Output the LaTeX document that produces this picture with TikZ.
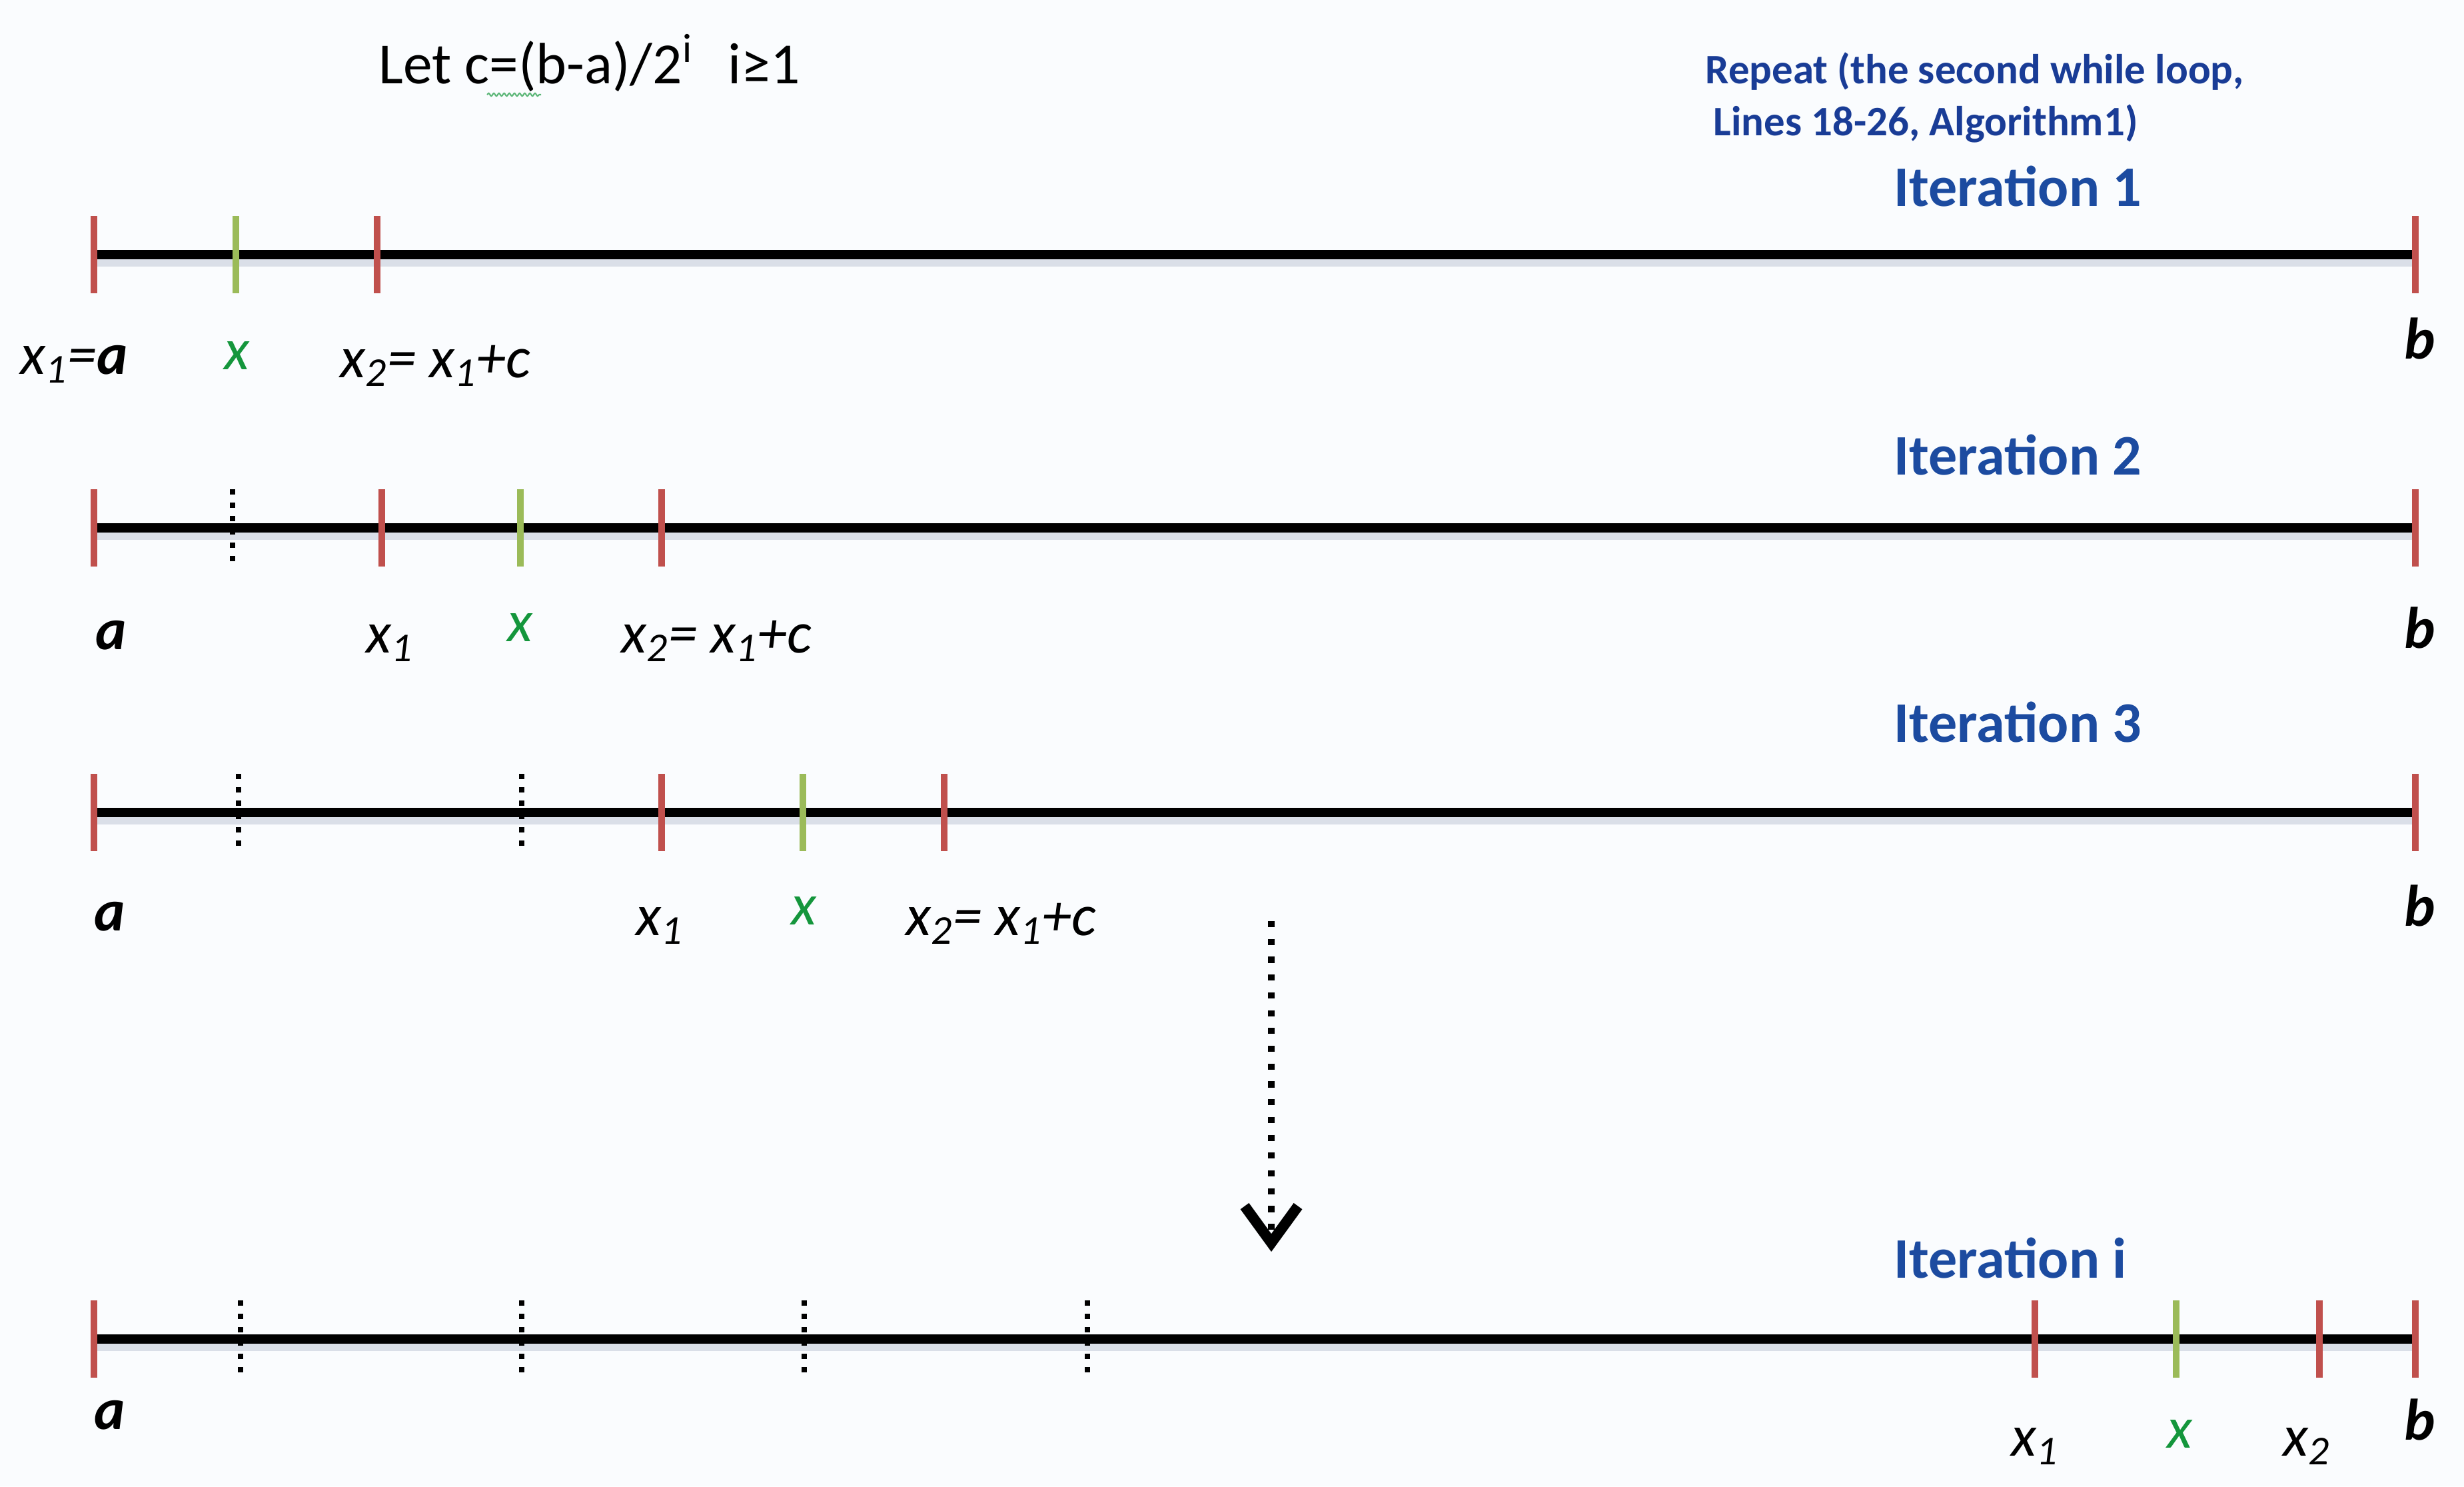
\documentclass[tikz,border=0pt]{standalone}
\usepackage{fontspec}
\setmainfont{Carlito}
\usetikzlibrary{arrows.meta,positioning,calc,decorations.pathmorphing}
\definecolor{algred}{RGB}{192,80,77}
\definecolor{alggreen}{RGB}{155,187,89}
\definecolor{algtextgreen}{RGB}{20,150,60}
\definecolor{algblue}{RGB}{28,75,160}
\definecolor{algnavy}{RGB}{25,60,150}
\definecolor{algpaper}{RGB}{250,252,254}
\definecolor{algshadow}{RGB}{205,211,224}

\begin{document}
\begin{tikzpicture}[
  axis/.style={line width=4pt,black},
  axshade/.style={line width=4pt,algshadow,opacity=.7},
  bound/.style={line width=2.7pt,algred},
  probe/.style={line width=2.7pt,alggreen},
  past/.style={line width=2.2pt,dash pattern=on 2.2pt off 3.5pt},
  iter/.style={font=\fontsize{24.5}{29}\selectfont\bfseries,text=algblue,anchor=base west,inner sep=0pt},
  lbl/.style={font=\fontsize{25}{29}\selectfont\itshape,anchor=base,inner sep=0pt},
  xlbl/.style={lbl,text=algtextgreen}]
  \fill[algpaper] (0,0) rectangle (36.98,-22.30);
  \useasboundingbox (0,0) rectangle (36.98,-22.30);

  % header
  \node[font=\fontsize{24.9}{29}\selectfont,anchor=base west,inner sep=0pt] (let) at (5.68,-1.25)
    {Let c=(b-a)/2\textsuperscript{i}\hspace{.6em}i≥1};
  \draw[algtextgreen!70,line width=.6pt,decorate,
    decoration={snake,amplitude=.6pt,segment length=2.2pt}] (7.31,-1.42) -- (8.12,-1.42);
  \node[font=\fontsize{17.9}{22}\selectfont\bfseries,text=algnavy,anchor=base west,inner sep=0pt]
    (rep1) at (25.59,-1.25) {Repeat (the second while loop,};
  \node[font=\fontsize{17.9}{22}\selectfont\bfseries,text=algnavy,anchor=base west,inner sep=0pt]
    (rep2) at (25.71,-2.03) {Lines 18-26, Algorithm1)};

  % iteration 1
  \node[iter] (it1) at (28.42,-3.09) {Iteration 1};
  \coordinate (a1) at (1.41,-3.82);
  \coordinate (b1) at (36.25,-3.82);
  \draw[axshade] ($(a1)+(0,-.11)$) -- ($(b1)+(0,-.11)$);
  \draw[axis] (a1) -- (b1);
  \foreach \x in {1.41,5.66,36.25} \draw[bound] (\x,-3.24) -- (\x,-4.40);
  \draw[probe] (3.54,-3.24) -- (3.54,-4.40);
  \node[lbl] (x1a) at (1.11,-5.61) {x\textsubscript{1}=\textbf{a}};
  \node[xlbl] (xa) at (3.56,-5.54) {x};
  \node[lbl] (x2a) at (6.53,-5.66) {x\textsubscript{2}= x\textsubscript{1}+c};
  \node[lbl] (ba) at (36.32,-5.38) {\textbf{b}};

  % iteration 2
  \node[iter] (it2) at (28.42,-7.12) {Iteration 2};
  \coordinate (a2) at (1.41,-7.92);
  \coordinate (b2) at (36.25,-7.92);
  \draw[axshade] ($(a2)+(0,-.11)$) -- ($(b2)+(0,-.11)$);
  \draw[axis] (a2) -- (b2);
  \draw[past] (3.49,-7.34) -- (3.49,-8.50);
  \foreach \x in {1.41,5.73,9.93,36.25} \draw[bound] (\x,-7.34) -- (\x,-8.50);
  \draw[probe] (7.81,-7.34) -- (7.81,-8.50);
  \node[lbl] (ab) at (1.67,-9.74) {\textbf{a}};
  \node[lbl] (x1b) at (5.85,-9.79) {x\textsubscript{1}};
  \node[xlbl] (xb) at (7.81,-9.62) {x};
  \node[lbl] (x2b) at (10.75,-9.79) {x\textsubscript{2}= x\textsubscript{1}+c};
  \node[lbl] (bb) at (36.32,-9.72) {\textbf{b}};

  % iteration 3
  \node[iter] (it3) at (28.42,-11.13) {Iteration 3};
  \coordinate (a3) at (1.41,-12.19);
  \coordinate (b3) at (36.25,-12.19);
  \draw[axshade] ($(a3)+(0,-.11)$) -- ($(b3)+(0,-.11)$);
  \draw[axis] (a3) -- (b3);
  \foreach \x in {3.58,7.83} \draw[past] (\x,-11.61) -- (\x,-12.77);
  \foreach \x in {1.41,9.93,14.17,36.25} \draw[bound] (\x,-11.61) -- (\x,-12.77);
  \draw[probe] (12.05,-11.61) -- (12.05,-12.77);
  \node[lbl] (ac) at (1.65,-13.96) {\textbf{a}};
  \node[lbl] (x1c) at (9.90,-14.03) {x\textsubscript{1}};
  \node[xlbl] (xc) at (12.07,-13.87) {x};
  \node[lbl] (x2c) at (15.02,-14.03) {x\textsubscript{2}= x\textsubscript{1}+c};
  \node[lbl] (bc) at (36.32,-13.89) {\textbf{b}};

  % repeat arrow
  \coordinate (down0) at (19.08,-13.82);
  \coordinate (down1) at (19.08,-18.78);
  \draw[line width=2.8pt,dash pattern=on 2.6pt off 5pt,
    -{Straight Barb[length=5.5mm,width=8mm,line width=4.5pt]}] (down0) -- (down1);

  % iteration i
  \node[iter] (iti) at (28.42,-19.17) {Iteration i};
  \coordinate (ai) at (1.41,-20.09);
  \coordinate (bi) at (36.25,-20.09);
  \draw[axshade] ($(ai)+(0,-.11)$) -- ($(bi)+(0,-.11)$);
  \draw[axis] (ai) -- (bi);
  \foreach \x in {3.61,7.83,12.07,16.32} \draw[past] (\x,-19.51) -- (\x,-20.67);
  \foreach \x in {1.41,30.54,34.81,36.25} \draw[bound] (\x,-19.51) -- (\x,-20.67);
  \draw[probe] (32.66,-19.51) -- (32.66,-20.67);
  \node[lbl] (ad) at (1.65,-21.44) {\textbf{a}};
  \node[lbl] (x1d) at (30.54,-21.84) {x\textsubscript{1}};
  \node[xlbl] (xd) at (32.71,-21.72) {x};
  \node[lbl] (x2d) at (34.62,-21.84) {x\textsubscript{2}};
  \node[lbl] (bd) at (36.32,-21.60) {\textbf{b}};
\end{tikzpicture}
\end{document}
